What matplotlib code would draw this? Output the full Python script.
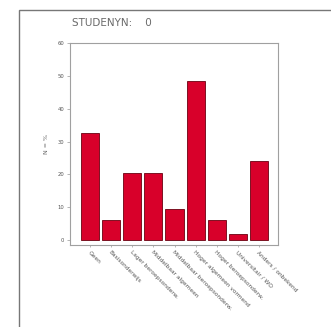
import matplotlib.pyplot as plt
from matplotlib.patches import Rectangle

# values (percent per category)
categories = ['Geen', 'Basisonderwijs', 'Lager beroepsonderw.', 'Middelbaar algemeen',
              'Middelbaar beroepsonderw.', 'Hoger algemeen vormend', 'Hoger beroepsonderw.',
              'Universitair / WO', 'Anders / onbekend']
values = [32.5, 6, 20.5, 20.5, 9.5, 48.5, 6, 2, 24]
yticks = [0, 10, 20, 30, 40, 50, 60]

fig = plt.figure(figsize=(3.31, 3.27), dpi=100)

# outer frame of the chart page
fig.patches.append(Rectangle((19 / 331, -0.05), 1.0, 1 - 10 / 327 + 0.05,
                             transform=fig.transFigure, fill=False,
                             edgecolor='#777777', linewidth=1.0))

ax = fig.add_axes([70 / 331, 1 - 245 / 327, 208 / 331, 202 / 327])
x = list(range(len(values)))
ax.bar(x, values, width=0.86, color='#d8002a', edgecolor='#6a0010',
       linewidth=0.6)

ax.set_xlim(-0.95, 8.9)
ax.set_ylim(-1.5, 60)
ax.set_yticks(yticks)
ax.set_yticklabels([str(t) for t in yticks], fontsize=3.8, color='#555555')
ax.set_xticks(x)
ax.set_xticklabels(categories, rotation=-45, ha='left', va='top',
                   rotation_mode='anchor', fontsize=4.2, color='#555555')
ax.tick_params(axis='y', length=2, width=0.5, color='#999999', pad=2)
ax.tick_params(axis='x', length=1.5, width=0.5, color='#999999', pad=2)
for s in ax.spines.values():
    s.set_color('#a0a0a0')
    s.set_linewidth(0.8)

ax.set_ylabel('N = %', fontsize=4.5, color='#666666', labelpad=6)

fig.text(72 / 331, 1 - 23 / 327, 'STUDENYN:    0', fontsize=7.5,
         color='#6a6a6a', va='center', ha='left')

fig.savefig('out.png', dpi=100)
